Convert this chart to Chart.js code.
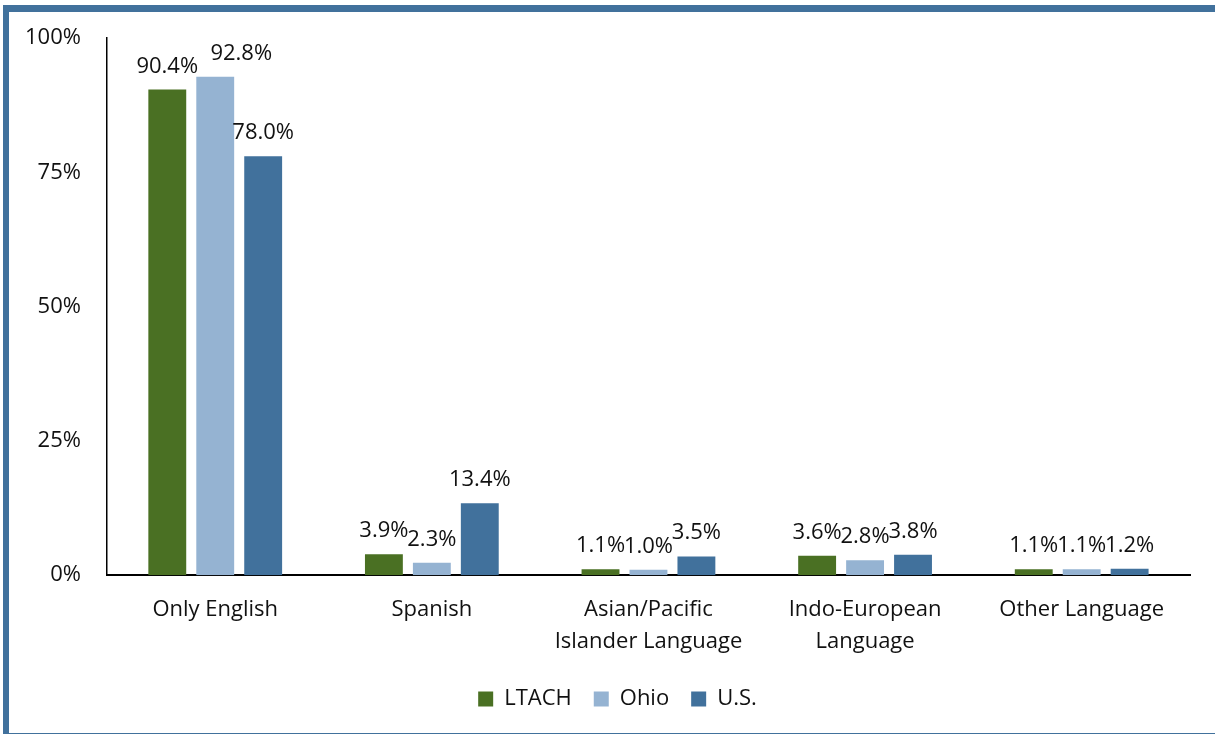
<!DOCTYPE html>
<html>
<head>
<title>Language spoken at home</title>
<script src="https://cdn.jsdelivr.net/npm/chart.js"></script>
<style>
  body { margin: 0; background: #fff; }
  #wrap { position: relative; width: 1215px; height: 735px; }
  #frame {
    position: absolute; left: 3px; top: 5px; width: 1300px; height: 721px;
    border-left: 6px solid #41719c; border-top: 7px solid #41719c;
    border-bottom: 1px solid #41719c;
  }
  canvas { position: absolute; left: 0; top: 0; }
</style>
</head>
<body>
<div id="wrap">
  <div id="frame"></div>
  <canvas id="myChart" width="1215" height="735"></canvas>
</div>
<script>
// data
const categories = ['Only English', 'Spanish', ['Asian/Pacific', 'Islander Language'], ['Indo-European', 'Language'], 'Other Language'];
const seriesNames = ['LTACH', 'Ohio', 'U.S.'];
const ltach = [90.4, 3.9, 1.1, 3.6, 1.1];
const ohio = [92.8, 2.3, 1.0, 2.8, 1.1];
const us = [78.0, 13.4, 3.5, 3.8, 1.2];
const yTicks = [0, 25, 50, 75, 100];

const colors = ['#4a7023', '#95b3d2', '#41719c'];
const fontFamily = "'Open Sans', 'Noto Sans', sans-serif";
const textColor = '#111';

// labels that Excel nudged sideways to avoid overlap
const labelShift = { '1-0': 26 };

const barLabels = {
  id: 'barLabels',
  afterDatasetsDraw(chart) {
    const ctx = chart.ctx;
    ctx.save();
    ctx.font = '22px ' + fontFamily;
    ctx.fillStyle = textColor;
    ctx.textAlign = 'center';
    ctx.textBaseline = 'alphabetic';
    chart.data.datasets.forEach(function(ds, i) {
      chart.getDatasetMeta(i).data.forEach(function(bar, j) {
        const dx = labelShift[i + '-' + j] || 0;
        ctx.fillText(ds.data[j].toFixed(1) + '%', bar.x + dx, bar.y - 17);
      });
    });
    ctx.restore();
  }
};

// legend sits centred on the whole frame, not on the plot
const legendNudge = {
  id: 'legendNudge',
  afterLayout(chart) {
    chart.legend.left += 19;
    chart.legend.right += 19;
  }
};

const seriesData = [ltach, ohio, us];

new Chart(document.getElementById('myChart'), {
  type: 'bar',
  data: {
    labels: categories,
    datasets: seriesNames.map(function(name, i) {
      return {
        label: name,
        data: seriesData[i],
        backgroundColor: colors[i],
        borderWidth: 0,
        categoryPercentage: 0.664,
        barPercentage: 0.79
      };
    })
  },
  options: {
    responsive: false,
    animation: false,
    layout: { padding: { top: 38, right: 25, left: 7, bottom: 15 } },
    plugins: {
      tooltip: { enabled: false },
      legend: {
        position: 'bottom',
        labels: {
          boxWidth: 15, boxHeight: 15, padding: 22,
          color: textColor,
          font: { size: 22, family: fontFamily }
        }
      }
    },
    scales: {
      x: {
        grid: { display: false },
        border: { color: '#000', width: 2 },
        afterFit(axis) { axis.height -= 3; },
        ticks: {
          color: textColor, padding: 11,
          font: { size: 22, family: fontFamily, lineHeight: 1.45 }
        }
      },
      y: {
        min: 0, max: 100,
        afterBuildTicks(axis) { axis.ticks = yTicks.map(function(v) { return { value: v }; }); },
        grid: { display: false },
        border: { color: '#000', width: 1.5 },
        ticks: {
          color: textColor, padding: 18,
          font: { size: 22, family: fontFamily },
          callback: function(v) { return v + '%'; }
        }
      }
    }
  },
  plugins: [barLabels, legendNudge]
});
</script>
</body>
</html>
